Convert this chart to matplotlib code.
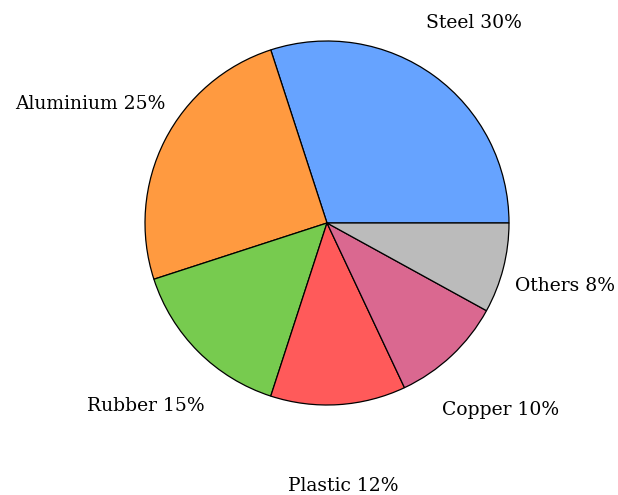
import matplotlib.pyplot as plt
import numpy as np

materials = ['Steel', 'Aluminium', 'Rubber', 'Plastic', 'Copper', 'Others']
shares = [30, 25, 15, 12, 10, 8]
colors = ['#66A3FF', '#FF9A40', '#77CB4F', '#FF5A5A', '#DA6890', '#BBBBBB']
# distance of each label centre from the pie centre, in radii
label_dist = [1.37, 1.46, 1.41, 1.44, 1.395, 1.35]

R = 182.0  # pie radius in pixels
fig = plt.figure(figsize=(6.18, 4.95), dpi=100)
ax = fig.add_axes([0, 0, 1, 1])

wedges, _ = ax.pie(shares, colors=colors, startangle=0, counterclock=True,
                   radius=1.0, wedgeprops=dict(edgecolor='black', linewidth=0.9))

total = sum(shares)
start = 0.0
for name, v, d in zip(materials, shares, label_dist):
    mid = np.deg2rad(start + 360.0 * v / total / 2)
    ax.text(d * np.cos(mid), d * np.sin(mid) - 0.008, f'{name} {v}%', ha='center', va='center',
            fontsize=13.5, family='DejaVu Serif')
    start += 360.0 * v / total

ax.set_xlim(-327 / R, 291 / R)
ax.set_ylim(-272 / R, 223 / R)
ax.set_aspect('equal')
ax.axis('off')

plt.savefig('out.png', dpi=100)
